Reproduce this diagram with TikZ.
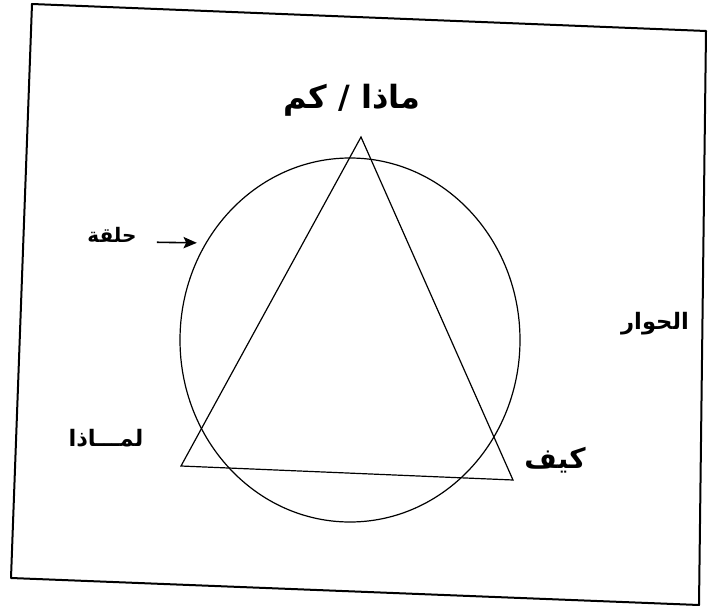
\documentclass[tikz,border=0pt]{standalone}
\usepackage{fontspec}
\newfontfamily\arabicfont[Script=Arabic]{DejaVu Sans}
\TeXXeTstate=1
\usetikzlibrary{shapes.geometric,arrows.meta,positioning}

\begin{document}
\begin{tikzpicture}[
    x=0.75pt, y=-0.75pt,
    frame/.style={line width=1.5pt, line join=round},
    shape line/.style={line width=0.9pt, line join=miter},
    ringnode/.style={draw, ellipse, line width=0.9pt, minimum width=255pt, minimum height=273pt, inner sep=0pt, outer sep=0pt},
    arlabel/.style={font=\arabicfont\bfseries\fontsize{#1}{#1}\selectfont, inner sep=1pt},
    myedge/.style={-{Stealth[length=10pt,width=8.5pt,inset=2pt]}, line width=1.2pt}
]
\fill[white] (0,0) rectangle (710,606);
\useasboundingbox (0,0) rectangle (710,606);

% outer frame (scanned, slightly tilted)
\coordinate (tl) at (32,4);
\coordinate (tr) at (706,31);
\coordinate (br) at (699,605);
\coordinate (bl) at (11,578);
\draw[frame] (tl) -- (tr) -- (br) -- (bl) -- cycle;

% ring and triangle
\node[ringnode] (ring) at (350,340) {};
\coordinate (apex) at (361,137);
\coordinate (lv) at (181,466);
\coordinate (rv) at (513,480);
\draw[shape line] (apex) -- (lv) -- (rv) -- cycle;

% labels
\node[arlabel=24pt] (what) at (352,100) {\beginR ماذا / كم\endR};
\node[arlabel=15pt, anchor=base] (halqa) at (112,242) {\beginR حلقة\endR};
\node[arlabel=17pt] (hiwar) at (655,324) {\beginR الحوار\endR};
\node[arlabel=17pt] (why) at (106,438) {\beginR لمـــاذا\endR};
\node[arlabel=21pt] (how) at (555,460) {\beginR كيف\endR};

\draw[myedge, shorten <=14pt, shorten >=7pt] (halqa.base east) -- (ring.146);
\end{tikzpicture}
\end{document}
